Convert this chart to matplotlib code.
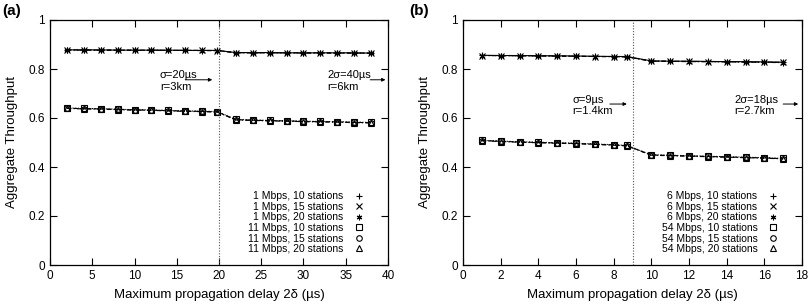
import matplotlib
matplotlib.use("Agg")
import matplotlib.pyplot as plt
from matplotlib.lines import Line2D

plt.rcParams["font.family"] = ["Liberation Sans", "DejaVu Sans"]

# ---- Panel (a): 802.11b, delay 2..38 us ----
delay_a = [2, 4, 6, 8, 10, 12, 14, 16, 18, 19.8, 22, 24, 26, 28, 30, 32, 34, 36, 38]
a_1m_10 = [0.878, 0.878, 0.878, 0.877, 0.877, 0.877, 0.877, 0.876, 0.876, 0.876,
           0.867, 0.867, 0.867, 0.866, 0.866, 0.866, 0.866, 0.866, 0.865]
a_1m_15 = [0.878, 0.878, 0.877, 0.877, 0.877, 0.877, 0.876, 0.876, 0.876, 0.875,
           0.867, 0.866, 0.866, 0.866, 0.866, 0.866, 0.865, 0.865, 0.865]
a_1m_20 = [0.877, 0.877, 0.877, 0.877, 0.876, 0.876, 0.876, 0.876, 0.875, 0.875,
           0.866, 0.866, 0.866, 0.866, 0.865, 0.865, 0.865, 0.865, 0.864]
a_11m_10 = [0.641, 0.639, 0.638, 0.636, 0.634, 0.633, 0.631, 0.629, 0.628, 0.626,
            0.594, 0.592, 0.590, 0.589, 0.587, 0.586, 0.585, 0.583, 0.582]
a_11m_15 = [0.640, 0.638, 0.637, 0.635, 0.633, 0.632, 0.630, 0.628, 0.627, 0.625,
            0.593, 0.591, 0.589, 0.588, 0.586, 0.585, 0.584, 0.582, 0.581]
a_11m_20 = [0.639, 0.637, 0.636, 0.634, 0.632, 0.631, 0.629, 0.627, 0.626, 0.624,
            0.592, 0.590, 0.588, 0.587, 0.585, 0.584, 0.583, 0.581, 0.580]
labels_a = ["1 Mbps, 10 stations", "1 Mbps, 15 stations", "1 Mbps, 20 stations",
            "11 Mbps, 10 stations", "11 Mbps, 15 stations", "11 Mbps, 20 stations"]

# ---- Panel (b): 802.11g, delay 1..17 us ----
delay_b = [1, 2, 3, 4, 5, 6, 7, 8, 8.7, 10, 11, 12, 13, 14, 15, 16, 17]
b_6m_10 = [0.856, 0.855, 0.855, 0.854, 0.854, 0.853, 0.852, 0.851, 0.851,
           0.833, 0.832, 0.832, 0.831, 0.830, 0.830, 0.829, 0.828]
b_6m_15 = [0.855, 0.855, 0.854, 0.854, 0.853, 0.852, 0.851, 0.851, 0.850,
           0.832, 0.832, 0.831, 0.830, 0.830, 0.829, 0.828, 0.827]
b_6m_20 = [0.855, 0.854, 0.854, 0.853, 0.852, 0.852, 0.851, 0.850, 0.849,
           0.832, 0.831, 0.830, 0.830, 0.829, 0.828, 0.827, 0.826]
b_54m_10 = [0.509, 0.506, 0.503, 0.501, 0.499, 0.497, 0.494, 0.491, 0.488,
            0.450, 0.448, 0.446, 0.444, 0.442, 0.440, 0.438, 0.435]
b_54m_15 = [0.508, 0.505, 0.502, 0.500, 0.498, 0.496, 0.493, 0.490, 0.487,
            0.449, 0.447, 0.445, 0.443, 0.441, 0.439, 0.437, 0.434]
b_54m_20 = [0.507, 0.504, 0.501, 0.499, 0.497, 0.495, 0.492, 0.489, 0.486,
            0.448, 0.446, 0.444, 0.442, 0.440, 0.438, 0.436, 0.433]
labels_b = ["6 Mbps, 10 stations", "6 Mbps, 15 stations", "6 Mbps, 20 stations",
            "54 Mbps, 10 stations", "54 Mbps, 15 stations", "54 Mbps, 20 stations"]

markers = ["+", "x", (6, 2, 0), "s", "o", "^"]
styles = ["-", (0, (4, 2)), (0, (4, 2, 1, 2)), (0, (1, 1.5)), (0, (4, 2)), (0, (4, 2, 1, 2))]


def draw_panel(ax, x, series, labels, xmax, xstep, vline, notes):
    for y, lab, m, ls in zip(series, labels, markers, styles):
        ax.plot(x, y, color="black", linestyle=ls, linewidth=0.8,
                marker=m, markersize=4, markeredgewidth=0.8,
                markerfacecolor="none", markeredgecolor="black")
    ax.axvline(vline, color="#555555", linestyle=(0, (1, 1.5)), linewidth=0.8)
    ax.set_xlim(0, xmax)
    ax.set_ylim(0, 1)
    ax.set_xticks(range(0, xmax + 1, xstep))
    ax.set_yticks([0, 0.2, 0.4, 0.6, 0.8, 1])
    ax.set_yticklabels(["0", "0.2", "0.4", "0.6", "0.8", "1"])
    ax.tick_params(direction="in", top=True, right=True, length=5, width=0.8, labelsize=8.5)
    for s in ax.spines.values():
        s.set_linewidth(0.9)
    ax.set_xlabel("Maximum propagation delay 2\u03b4 (\u00b5s)", fontsize=9.5, labelpad=5)
    ax.set_ylabel("Aggregate Throughput", fontsize=9.5, labelpad=8)

    for tx, ty, txt, ax0, ax1, ay in notes:
        ax.text(tx, ty, txt, fontsize=8, va="top", ha="left", linespacing=1.2)
        ax.annotate("", xy=(ax1, ay), xytext=(ax0, ay),
                    arrowprops=dict(arrowstyle="-|>", color="black", lw=0.7,
                                    mutation_scale=5, shrinkA=0, shrinkB=0))

    handles = [Line2D([], [], linestyle="none", marker=m, markersize=4,
                      markeredgewidth=0.8, markerfacecolor="none", color="black")
               for m in markers]
    ax.legend(handles, labels, loc="lower right", frameon=False, markerfirst=False,
              fontsize=7.5, handlelength=1.2, handletextpad=0.9, labelspacing=0.05,
              borderaxespad=0.3, bbox_to_anchor=(0.955, 0.015))


fig = plt.figure(figsize=(8.12, 3.04), dpi=100)
ax_a = fig.add_axes([50 / 812, 39 / 304, 338 / 812, 245 / 304])
ax_b = fig.add_axes([463 / 812, 39 / 304, 339 / 812, 245 / 304])

draw_panel(ax_a, delay_a, [a_1m_10, a_1m_15, a_1m_20, a_11m_10, a_11m_15, a_11m_20],
           labels_a, 40, 5, 20,
           [(13.0, 0.795, "\u03c3=20\u00b5s\nr=3km", 16.0, 19.2, 0.756),
            (32.8, 0.795, "2\u03c3=40\u00b5s\nr=6km", 37.9, 39.7, 0.756)])
draw_panel(ax_b, delay_b, [b_6m_10, b_6m_15, b_6m_20, b_54m_10, b_54m_15, b_54m_20],
           labels_b, 18, 2, 9,
           [(5.8, 0.695, "\u03c3=9\u00b5s\nr=1.4km", 7.8, 8.7, 0.657),
            (14.4, 0.695, "2\u03c3=18\u00b5s\nr=2.7km", 17.0, 17.8, 0.657)])

fig.text(2 / 812, 1 - 11 / 304, "(a)", fontsize=11, fontweight="bold", ha="left", va="center")
fig.text(409 / 812, 1 - 11 / 304, "(b)", fontsize=11, fontweight="bold", ha="left", va="center")

fig.savefig("out.png", dpi=100)
